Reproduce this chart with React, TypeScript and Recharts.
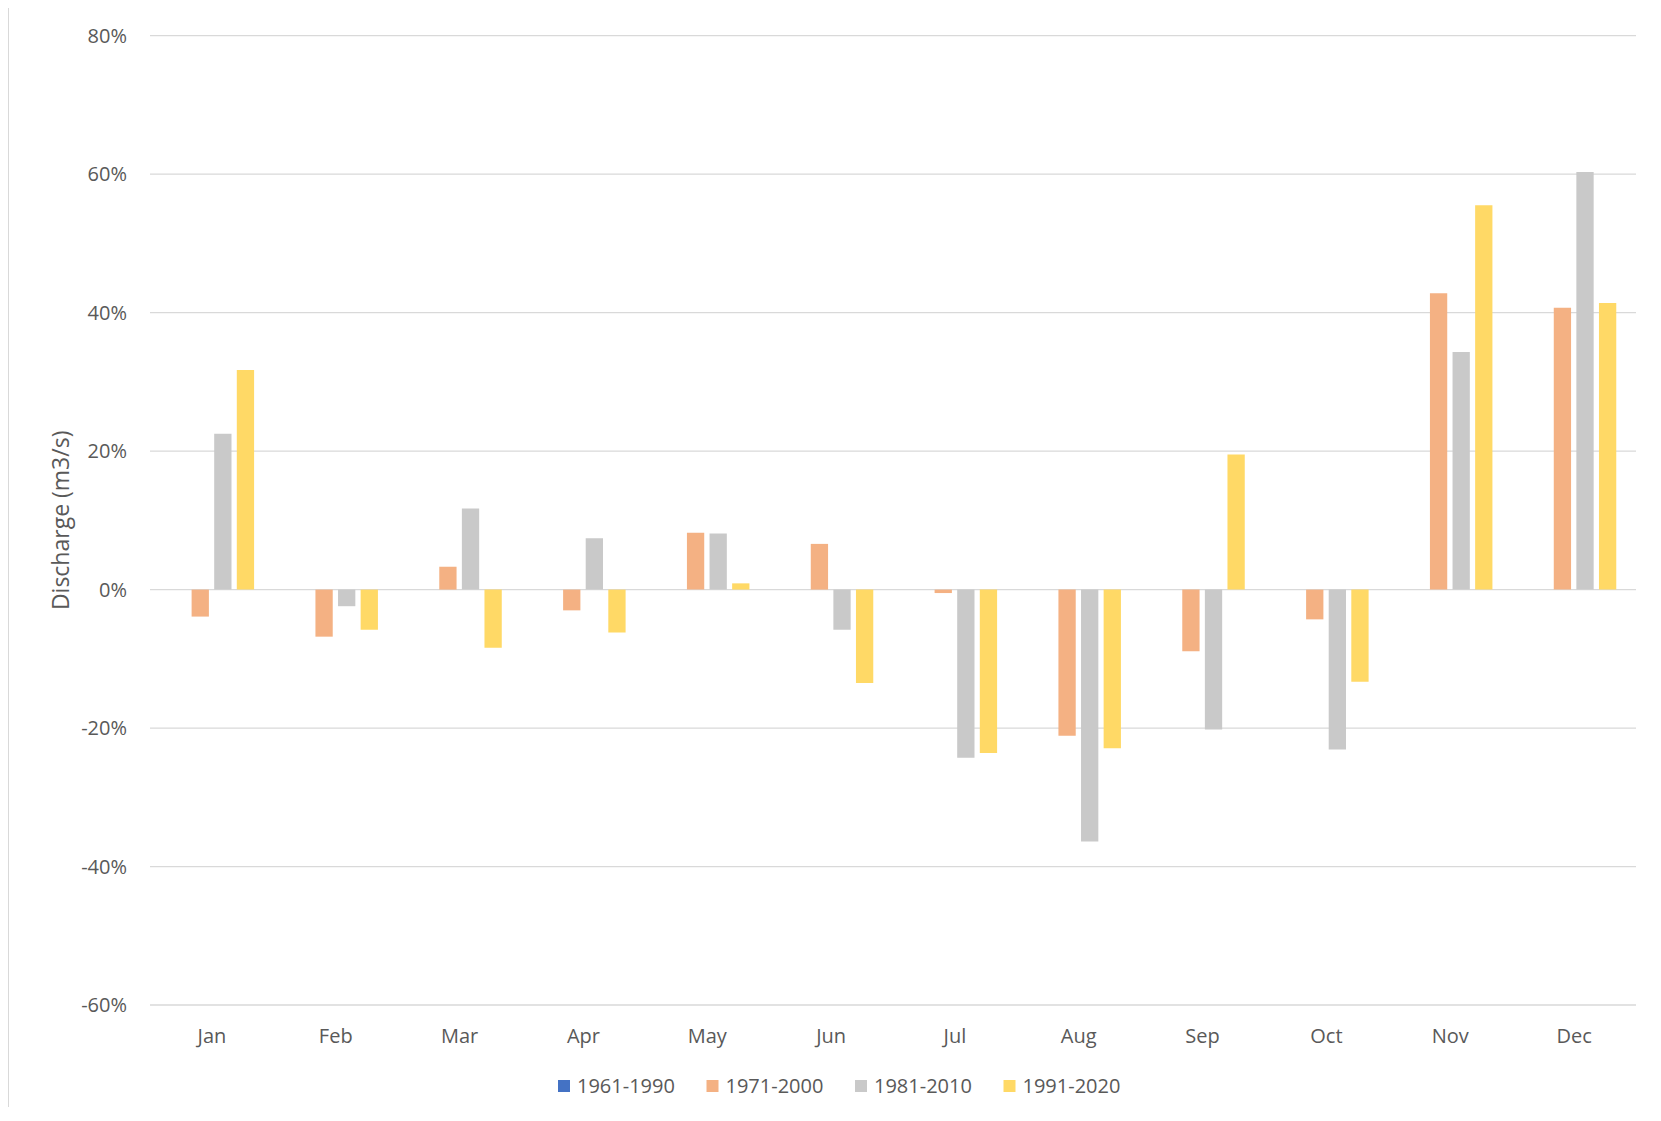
import React from 'react'
import { BarChart, Bar, XAxis, YAxis, CartesianGrid, Legend } from 'recharts'

const months = ['Jan', 'Feb', 'Mar', 'Apr', 'May', 'Jun', 'Jul', 'Aug', 'Sep', 'Oct', 'Nov', 'Dec']

// 1961-1990 is the reference period, so it has no bars
const p1961 = [null, null, null, null, null, null, null, null, null, null, null, null]
const p1971 = [-3.9, -6.8, 3.3, -3.0, 8.2, 6.6, -0.5, -21.1, -8.9, -4.3, 42.8, 40.7]
const p1981 = [22.5, -2.4, 11.7, 7.4, 8.1, -5.8, -24.3, -36.4, -20.2, -23.1, 34.3, 60.3]
const p1991 = [31.7, -5.8, -8.4, -6.2, 0.9, -13.5, -23.6, -22.9, 19.5, -13.3, 55.5, 41.4]

const yTicks = [-60, -40, -20, 0, 20, 40, 60, 80]

const series = [
  { key: 'p1961', name: '1961-1990', color: '#4472C4', values: p1961 },
  { key: 'p1971', name: '1971-2000', color: '#F4B183', values: p1971 },
  { key: 'p1981', name: '1981-2010', color: '#C9C9C9', values: p1981 },
  { key: 'p1991', name: '1991-2020', color: '#FFD966', values: p1991 },
]

const data = months.map((month, i) => {
  const row: Record<string, any> = { month }
  series.forEach((s) => {
    row[s.key] = s.values[i]
  })
  return row
})

const FONT = '"Open Sans", "Noto Sans", sans-serif'
const TEXT = '#595959'

function YLabel(props: any) {
  const { x, y, height } = props.viewBox
  const cx = x + 52
  const cy = y + height / 2
  return (
    <text
      x={cx}
      y={cy}
      transform={`rotate(-90 ${cx} ${cy})`}
      textAnchor="middle"
      dominantBaseline="central"
      fill={TEXT}
      fontSize={23}
      fontFamily={FONT}
    >
      Discharge (m3/s)
    </text>
  )
}

function LegendContent(props: any) {
  const items = props.payload && props.payload.length ? props.payload : series.map((s) => ({ value: s.name, color: s.color }))
  return (
    <svg width={600} height={26} style={{ display: 'block', overflow: 'visible' }}>
      {items.map((item: any, i: number) => (
        <g key={item.value} transform={`translate(${i * 148.5}, 0)`}>
          <rect x={0} y={7} width={12} height={12} fill={item.color} />
          <text x={19} y={20} fontSize={20} fontFamily={FONT} fill={TEXT}>
            {item.value}
          </text>
        </g>
      ))}
    </svg>
  )
}

export default function App() {
  return (
    <div style={{ position: 'relative', width: 1650, height: 1100 }}>
      <div
        style={{
          position: 'absolute',
          left: 0,
          top: -1,
          width: 1650,
          height: 1100,
          borderTop: '1.5px solid #D9D9D9',
          borderLeft: '1.5px solid #D9D9D9',
          boxSizing: 'border-box',
          pointerEvents: 'none',
        }}
      />
      <BarChart
        width={1650}
        height={1100}
        data={data}
        margin={{ top: 27.7, right: 22, bottom: 73, left: 0 }}
        barSize={17.3}
        barGap={5.3}
      >
        <CartesianGrid vertical={false} stroke="#D9D9D9" strokeWidth={1.3} />
        <XAxis
          dataKey="month"
          height={30}
          axisLine={false}
          tickLine={false}
          tickSize={0}
          tickMargin={24}
          interval={0}
          tick={{ fill: TEXT, fontSize: 20, fontFamily: FONT }}
        />
        <YAxis
          width={142}
          domain={[-60, 80]}
          ticks={yTicks}
          interval={0}
          axisLine={false}
          tickLine={false}
          tickSize={0}
          tickMargin={23}
          tickFormatter={(v: number) => `${v}%`}
          tick={{ fill: TEXT, fontSize: 20, fontFamily: FONT }}
          label={<YLabel />}
        />
        <Legend
          layout="horizontal"
          verticalAlign="middle"
          align="center"
          content={<LegendContent />}
          wrapperStyle={{ left: 550, top: 1064.7, width: 600, height: 26 }}
        />
        {series.map((s) => (
          <Bar key={s.key} dataKey={s.key} name={s.name} fill={s.color} isAnimationActive={false} />
        ))}
      </BarChart>
    </div>
  )
}
